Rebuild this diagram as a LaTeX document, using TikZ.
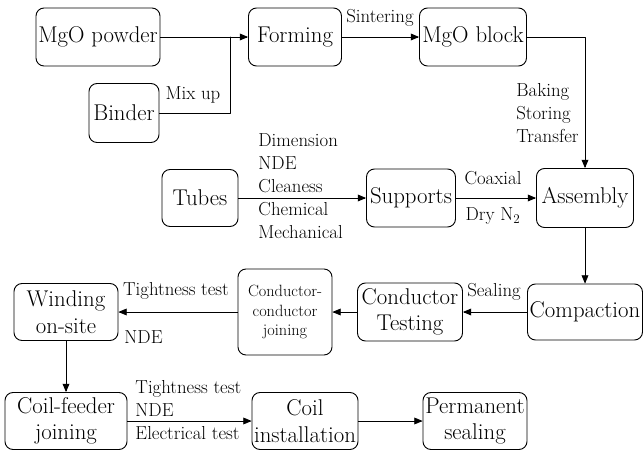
\documentclass[tikz,border=0pt]{standalone}
\usepackage{fontspec}
\usetikzlibrary{arrows}
\tikzset{
  proc/.style={draw,rounded corners=8pt,inner sep=0pt,align=center,font=\fontsize{22.8}{26.5}\selectfont},
  lbl/.style={inner sep=0pt,align=left,font=\fontsize{18.8}{23}\selectfont},
}
\begin{document}
\begin{tikzpicture}[line cap=round,line join=round,>=triangle 45,x=1pt,y=-1pt,line width=0.9pt]
\useasboundingbox (0,0) rectangle (643,454);
\node[proc,minimum width=124pt,minimum height=58pt] (powder) at (98,37) {MgO powder};
\node[proc,minimum width=70pt,minimum height=59pt] (binder) at (124,113) {Binder};
\node[proc,minimum width=93pt,minimum height=58pt] (forming) at (295,37) {Forming};
\node[proc,minimum width=107pt,minimum height=58pt] (block) at (473,37) {MgO block};
\node[proc,minimum width=76pt,minimum height=57pt] (tubes) at (200,198) {Tubes};
\node[proc,minimum width=89pt,minimum height=58pt] (supports) at (411,198) {Supports};
\node[proc,minimum width=97pt,minimum height=59pt] (assembly) at (585,198) {Assembly};
\node[proc,minimum width=115pt,minimum height=56pt] (compaction) at (585,312) {Compaction};
\node[proc,minimum width=105pt,minimum height=58pt] (testing) at (410,312) {Conductor\\Testing};
\node[proc,minimum width=94pt,minimum height=86pt,font=\fontsize{16.3}{19.5}\selectfont] (ccjoin) at (285,312) {Conductor-\\conductor\\joining};
\node[proc,minimum width=104pt,minimum height=57pt] (winding) at (66,312) {Winding\\on-site};
\node[proc,minimum width=122pt,minimum height=57pt] (coilfeeder) at (66,421) {Coil-feeder\\joining};
\node[proc,minimum width=106pt,minimum height=57pt] (install) at (305,421) {Coil\\installation};
\node[proc,minimum width=104pt,minimum height=57pt] (sealing) at (475,421) {Permanent\\sealing};
\coordinate (mix) at (230,37);
\node[lbl] (mixup) at (193,95) {Mix up};
\node[lbl] (sinter) at (380,18) {Sintering};
\node[lbl,anchor=east] (bake) at (579,113) {Baking\\Storing\\Transfer};
\node[lbl,anchor=west] (checks) at (258,186) {Dimension\\NDE\\Cleaness\\Chemical\\Mechanical};
\node[lbl] (coax) at (493,178) {Coaxial};
\node[lbl] (dry) at (493,216) {Dry N\textsubscript{2}};
\node[lbl] (seal) at (494,292) {Sealing};
\node[lbl] (tight) at (176,291) {Tightness test};
\node[lbl,anchor=west] (nde) at (124,337) {NDE};
\node[lbl,anchor=west] (tests) at (135,410) {Tightness test\\NDE\\Electrical test};
\draw[->] (powder) -- (forming);
\draw (binder.east) -| (mix);
\draw[->] (forming) -- (block);
\draw[->] (block.east) -| (assembly.north);
\draw[->] (tubes) -- (supports);
\draw[->] (supports) -- (assembly);
\draw[->] (assembly) -- (compaction);
\draw[->] (compaction) -- (testing);
\draw[->] (testing) -- (ccjoin);
\draw[->] (ccjoin) -- (winding);
\draw[->] (winding) -- (coilfeeder);
\draw[->] (coilfeeder) -- (install);
\draw[->] (install) -- (sealing);
\end{tikzpicture}
\end{document}
